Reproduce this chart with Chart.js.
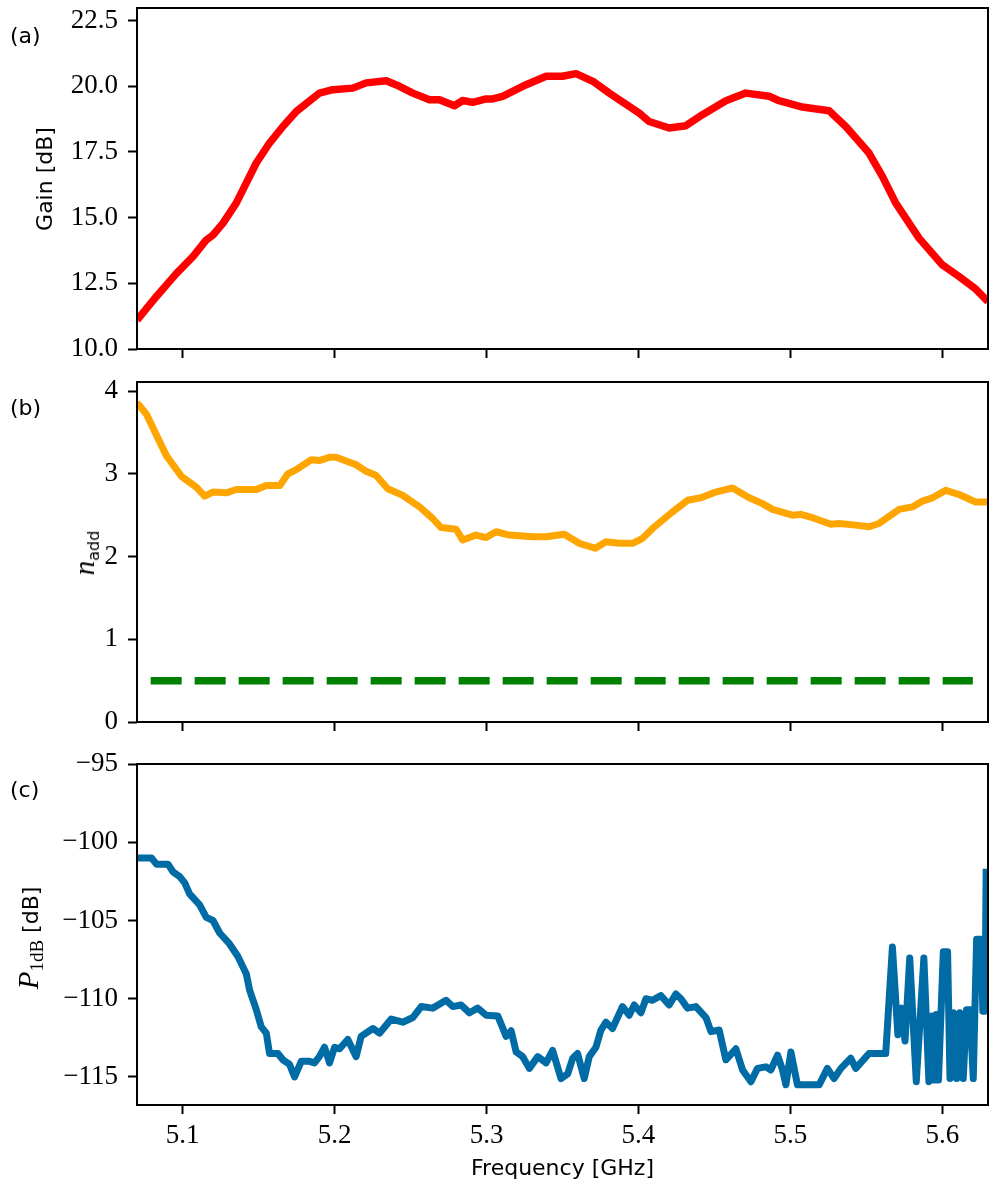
<!DOCTYPE html>
<html>
<head>
<meta charset="utf-8">
<title>Amplifier gain, added noise and compression</title>
<script src="https://cdn.jsdelivr.net/npm/chart.js@4.4.1/dist/chart.umd.min.js"></script>
<style>
    body { margin: 0; background: #fff; width: 997px; height: 1196px; position: relative; overflow: hidden; }
    canvas { position: absolute; left: 0; }
    .panel-tag { position: absolute; left: 10px; font-family: 'DejaVu Sans', sans-serif; font-size: 22px; line-height: 1; transform: translateY(-50%); color: #000; }
    .ytitle { position: absolute; transform: translate(-50%, -50%) rotate(-90deg); white-space: nowrap; font-family: 'DejaVu Sans', sans-serif; font-size: 22px; line-height: 1; color: #000; }
    .math { font-family: 'Liberation Serif', serif; font-style: italic; font-size: 29px; }
    .ytitle sub { font-family: 'DejaVu Sans', sans-serif; font-size: 16px; vertical-align: -5px; }
    .ytitle sub.rm { font-family: 'Liberation Serif', serif; font-size: 19px; }
</style>
</head>
<body>
<canvas id="chart-gain" width="997" height="401" style="top:-22px"></canvas>
<canvas id="chart-nadd" width="997" height="400" style="top:352px"></canvas>
<canvas id="chart-p1db" width="997" height="462" style="top:734px"></canvas>

<div class="panel-tag" style="top:36px">(a)</div>
<div class="panel-tag" style="top:408px">(b)</div>
<div class="panel-tag" style="top:790px">(c)</div>

<div class="ytitle" style="left:45px; top:179px">Gain [dB]</div>
<div class="ytitle" style="left:86px; top:553px"><span class="math">n</span><sub>add</sub></div>
<div class="ytitle" style="left:30px; top:938px"><span class="math">P</span><sub class="rm">1dB</sub> [dB]</div>

<script>
// --- Data ---
const freqTicks = [5.1, 5.2, 5.3, 5.4, 5.5, 5.6];

// (a) gain
const gainFreq = [5.0700, 5.0828, 5.0960, 5.1068, 5.1156, 5.1200, 5.1266, 5.1353, 5.1485, 5.1572,
    5.1660, 5.1748, 5.1900, 5.1989, 5.2120, 5.2208, 5.2340, 5.2427, 5.2515, 5.2624,
    5.2690, 5.2789, 5.2843, 5.2909, 5.2997, 5.3040, 5.3106, 5.3238, 5.3392, 5.3500,
    5.3589, 5.3700, 5.3808, 5.4005, 5.4070, 5.4202, 5.4312, 5.4421, 5.4575, 5.4706,
    5.4860, 5.4925, 5.5078, 5.5254, 5.5364, 5.5517, 5.5605, 5.5693, 5.5846, 5.6000,
    5.6109, 5.6219, 5.6300];
const gainDb = [11.10, 12.00, 12.88, 13.52, 14.15, 14.34, 14.79, 15.55, 17.08, 17.84,
    18.47, 19.04, 19.74, 19.87, 19.93, 20.13, 20.21, 20.00, 19.74, 19.49,
    19.49, 19.26, 19.46, 19.39, 19.52, 19.52, 19.62, 20.00, 20.38, 20.38,
    20.48, 20.19, 19.74, 18.98, 18.66, 18.41, 18.50, 18.92, 19.45, 19.74,
    19.62, 19.45, 19.21, 19.07, 18.47, 17.46, 16.57, 15.55, 14.22, 13.20,
    12.76, 12.28, 11.80];
const gainTicks = [10, 12.5, 15, 17.5, 20, 22.5];

// (b) added noise
const naddFreq = [5.0700, 5.0762, 5.0893, 5.0992, 5.1090, 5.1145, 5.1200, 5.1288, 5.1353, 5.1485,
    5.1551, 5.1640, 5.1693, 5.1748, 5.1847, 5.1900, 5.1967, 5.2011, 5.2142, 5.2208,
    5.2274, 5.2350, 5.2449, 5.2559, 5.2646, 5.2701, 5.2800, 5.2843, 5.2931, 5.2997,
    5.3063, 5.3150, 5.3304, 5.3392, 5.3512, 5.3610, 5.3716, 5.3786, 5.3874, 5.3961,
    5.4027, 5.4093, 5.4224, 5.4323, 5.4411, 5.4509, 5.4619, 5.4729, 5.4816, 5.4882,
    5.5013, 5.5068, 5.5145, 5.5266, 5.5321, 5.5430, 5.5517, 5.5583, 5.5715, 5.5802,
    5.5868, 5.5934, 5.6022, 5.6109, 5.6219, 5.6300];
const naddValues = [3.86, 3.72, 3.22, 2.97, 2.84, 2.73, 2.78, 2.77, 2.81, 2.81,
    2.86, 2.86, 3.00, 3.05, 3.17, 3.16, 3.20, 3.20, 3.11, 3.03,
    2.98, 2.82, 2.74, 2.60, 2.46, 2.35, 2.33, 2.20, 2.26, 2.23,
    2.30, 2.26, 2.24, 2.24, 2.27, 2.16, 2.10, 2.18, 2.16, 2.16,
    2.22, 2.34, 2.54, 2.68, 2.71, 2.78, 2.83, 2.71, 2.64, 2.57,
    2.50, 2.51, 2.47, 2.39, 2.40, 2.38, 2.36, 2.40, 2.57, 2.60,
    2.67, 2.71, 2.80, 2.75, 2.66, 2.66];
const quantumLimitFreq = [5.079, 5.620];
const quantumLimitValues = [0.5, 0.5];
const naddTicks = [0, 1, 2, 3, 4];

// (c) 1 dB compression point
const p1dbFreq = [5.0700, 5.0795, 5.0828, 5.0904, 5.0937, 5.0981, 5.1014, 5.1046, 5.1112, 5.1156,
    5.1200, 5.1244, 5.1309, 5.1364, 5.1419, 5.1441, 5.1485, 5.1518, 5.1551, 5.1572,
    5.1627, 5.1660, 5.1704, 5.1737, 5.1781, 5.1835, 5.1868, 5.1900, 5.1934, 5.1967,
    5.2000, 5.2033, 5.2087, 5.2142, 5.2175, 5.2252, 5.2296, 5.2373, 5.2449, 5.2515,
    5.2570, 5.2646, 5.2734, 5.2778, 5.2833, 5.2888, 5.2942, 5.2997, 5.3074, 5.3129,
    5.3162, 5.3195, 5.3238, 5.3282, 5.3337, 5.3392, 5.3435, 5.3490, 5.3534, 5.3567,
    5.3599, 5.3643, 5.3676, 5.3720, 5.3753, 5.3786, 5.3829, 5.3895, 5.3939, 5.3972,
    5.4016, 5.4049, 5.4092, 5.4147, 5.4202, 5.4246, 5.4279, 5.4323, 5.4378, 5.4444,
    5.4477, 5.4531, 5.4575, 5.4641, 5.4685, 5.4740, 5.4783, 5.4838, 5.4871, 5.4915,
    5.4948, 5.4970, 5.5003, 5.5046, 5.5189, 5.5243, 5.5287, 5.5332, 5.5397, 5.5430,
    5.5517, 5.5627, 5.5671, 5.5707, 5.5732, 5.5754, 5.5785, 5.5828, 5.5878, 5.5911,
    5.5933, 5.5946, 5.5960, 5.5974, 5.6006, 5.6034, 5.6050, 5.6072, 5.6094, 5.6115,
    5.6137, 5.6159, 5.6181, 5.6203, 5.6225, 5.6255, 5.6266, 5.6280, 5.6288];
const p1dbValues = [-101.0, -101.0, -101.4, -101.4, -101.9, -102.2, -102.6, -103.3, -104.0, -104.8,
    -105.0, -105.8, -106.5, -107.3, -108.4, -109.45, -110.7, -111.8, -112.2, -113.5,
    -113.5, -113.9, -114.2, -115.0, -114.0, -114.0, -114.1, -113.7, -113.1, -114.1,
    -113.1, -113.2, -112.6, -113.7, -112.4, -111.9, -112.2, -111.3, -111.5, -111.2,
    -110.5, -110.6, -110.1, -110.5, -110.4, -110.9, -110.6, -111.05, -111.1, -112.4,
    -112.05, -113.4, -113.7, -114.45, -113.7, -114.1, -113.3, -115.1, -114.8, -113.8,
    -113.5, -115.1, -113.7, -113.1, -112.0, -111.5, -111.9, -110.5, -111.05, -110.4,
    -110.9, -110.0, -110.1, -109.8, -110.4, -109.7, -110.0, -110.6, -110.5, -111.2,
    -112.1, -112.0, -113.9, -113.2, -114.55, -115.3, -114.45, -114.35, -114.55, -113.6,
    -114.55, -115.5, -113.4, -115.5, -115.5, -114.45, -115.1, -114.45, -113.8, -114.45,
    -113.5, -113.5, -106.7, -112.3, -110.6, -112.7, -107.4, -115.3, -107.4, -115.3,
    -111.1, -115.2, -111.0, -115.2, -107.0, -107.0, -115.1, -110.9, -115.1, -110.9,
    -115.1, -110.7, -110.7, -115.1, -106.2, -106.2, -110.8, -110.8, -101.7];
const p1dbTicks = [-115, -110, -105, -100, -95];

// --- Shared styling ---
const tickFont = { family: "'Liberation Serif', serif", size: 27 };
const toPoints = (xs, ys) => xs.map((x, i) => ({ x: x, y: ys[i] }));

// draws the closed axes frame on top of the data, like matplotlib spines
const framePlugin = {
    id: 'frame',
    afterDraw(chart) {
        const { ctx, chartArea } = chart;
        ctx.save();
        ctx.strokeStyle = '#000';
        ctx.lineWidth = 2;
        ctx.strokeRect(chartArea.left, chartArea.top, chartArea.right - chartArea.left, chartArea.bottom - chartArea.top);
        ctx.restore();
    }
};

function xScale(showLabels, height) {
    return {
        type: 'linear',
        min: 5.07,
        max: 5.63,
        afterBuildTicks: (scale) => { scale.ticks = freqTicks.map(v => ({ value: v })); },
        afterFit: (scale) => { scale.height = height; },
        grid: { display: true, drawOnChartArea: false, drawTicks: true, tickLength: 9, tickWidth: 2, tickColor: '#000' },
        border: { display: false },
        ticks: {
            display: showLabels,
            color: '#000',
            font: tickFont,
            padding: 6,
            maxRotation: 0,
            autoSkip: false,
            callback: (v) => v.toFixed(1)
        },
        title: {
            display: showLabels,
            text: 'Frequency [GHz]',
            color: '#000',
            font: { family: "'DejaVu Sans', sans-serif", size: 22 },
            padding: { top: 0, bottom: 14 }
        }
    };
}

function yScale(min, max, tickValues, format) {
    return {
        type: 'linear',
        min: min,
        max: max,
        afterBuildTicks: (scale) => { scale.ticks = tickValues.map(v => ({ value: v })); },
        afterFit: (scale) => { scale.width = 137; },
        grid: { display: true, drawOnChartArea: false, drawTicks: true, tickLength: 9, tickWidth: 2, tickColor: '#000' },
        border: { display: false },
        ticks: { color: '#000', font: tickFont, padding: 10, autoSkip: false, callback: format }
    };
}

function makeChart(id, datasets, xOpts, yOpts) {
    return new Chart(document.getElementById(id), {
        type: 'line',
        data: { datasets: datasets },
        options: {
            responsive: false,
            animation: false,
            events: [],
            layout: { padding: { top: 30, right: 9, left: 0, bottom: 0 } },
            elements: { point: { radius: 0 }, line: { tension: 0, borderJoinStyle: 'round' } },
            plugins: { legend: { display: false }, tooltip: { enabled: false } },
            scales: { x: xOpts, y: yOpts }
        },
        plugins: [framePlugin]
    });
}

const minus = (v) => (v < 0 ? '\u2212' + Math.abs(v) : String(v));

// --- (a) Gain ---
makeChart('chart-gain', [{
    data: toPoints(gainFreq, gainDb),
    borderColor: '#ff0000',
    borderWidth: 7.5,
    clip: 0
}], xScale(false, 30), yScale(10, 22.98, gainTicks, (v) => v.toFixed(1)));

// --- (b) Added noise ---
makeChart('chart-nadd', [{
    data: toPoints(naddFreq, naddValues),
    borderColor: '#ffa500',
    borderWidth: 7,
    clip: 0
}, {
    data: toPoints(quantumLimitFreq, quantumLimitValues),
    borderColor: '#008000',
    borderWidth: 7.5,
    borderDash: [31, 13],
    borderCapStyle: 'butt',
    clip: 0
}], xScale(false, 30), yScale(0, 4.11, naddTicks, (v) => String(v)));

// --- (c) 1 dB compression point ---
makeChart('chart-p1db', [{
    data: toPoints(p1dbFreq, p1dbValues),
    borderColor: '#006ba4',
    borderWidth: 7,
    clip: 0
}], xScale(true, 91), yScale(-116.79, -95, p1dbTicks, minus));
</script>
</body>
</html>
